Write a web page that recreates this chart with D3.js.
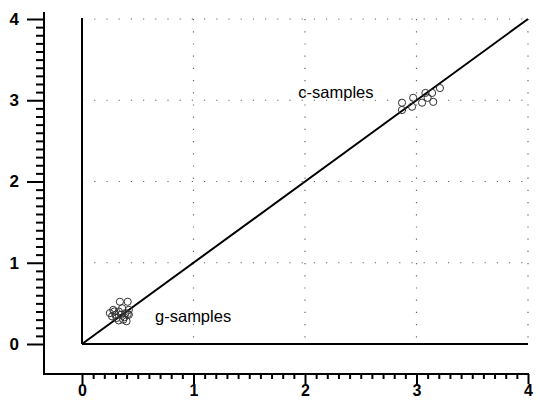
<!DOCTYPE html>
<html><head><meta charset="utf-8">
<script src="https://cdn.jsdelivr.net/npm/d3@7"></script>
<style>body{margin:0;background:#fff}svg{display:block}</style>
</head><body>
<svg id="c" width="540" height="400"></svg>
<script>
const tickValues = [0, 1, 2, 3, 4];
const tickLabels = ["0", "1", "2", "3", "4"];
const cSamplesX = [2.87, 2.87, 2.96, 2.97, 3.05, 3.08, 3.14, 3.15, 3.21, 3.10];
const cSamplesY = [2.97, 2.88, 2.92, 3.03, 2.97, 3.09, 3.09, 2.98, 3.15, 3.03];
const gSamplesX = [0.34, 0.41, 0.25, 0.28, 0.30, 0.33, 0.36, 0.39, 0.42, 0.27, 0.31, 0.35, 0.38, 0.41, 0.29, 0.33, 0.37, 0.40, 0.42];
const gSamplesY = [0.52, 0.52, 0.38, 0.42, 0.36, 0.40, 0.44, 0.38, 0.42, 0.34, 0.32, 0.36, 0.33, 0.37, 0.40, 0.29, 0.30, 0.28, 0.36];
const seriesLabels = ["c-samples", "g-samples"];
const labelPos = [[1.94, 3.03], [0.655, 0.27]];

const svg = d3.select("#c");
const x = d3.scaleLinear().domain([0, 4]).range([82, 528]);
const y = d3.scaleLinear().domain([0, 4]).range([344, 19]);
const font = "'Liberation Sans', Arial, Helvetica, sans-serif";

// grid dotted lines
const grid = svg.append("g").attr("stroke", "#666").attr("stroke-width", 1.2).attr("stroke-dasharray", "1.2,11");
tickValues.slice(1).forEach(v => {
  grid.append("line").attr("x1", x(v)).attr("x2", x(v)).attr("y1", y(4)).attr("y2", y(0));
  grid.append("line").attr("x1", x(0)).attr("x2", x(4)).attr("y1", y(v)).attr("y2", y(v));
});

// frame lines
const fr = svg.append("g").attr("stroke", "#000").attr("stroke-width", 2).attr("fill", "none");
fr.append("line").attr("x1", x(0)).attr("x2", x(0)).attr("y1", y(0)).attr("y2", y(4) - 1);
fr.append("line").attr("x1", x(0)).attr("x2", x(4)).attr("y1", y(0)).attr("y2", y(0));
fr.append("line").attr("x1", x(0)).attr("x2", x(4)).attr("y1", y(0)).attr("y2", y(4));

// y axis at x=44
const yAxisX = 44, xAxisY = 374;
const minor = d3.range(0, 40).map(i => i / 10).filter(v => v % 1 !== 0);
const ya = svg.append("g").attr("transform", `translate(${yAxisX},0)`);
ya.call(d3.axisLeft(y).tickValues(tickValues).tickFormat((d, i) => tickLabels[i]).tickSize(17).tickPadding(8));
ya.append("g").call(d3.axisLeft(y).tickValues(minor).tickFormat("").tickSize(8));
ya.selectAll(".domain").remove();
ya.selectAll("line").attr("stroke", "#000").attr("stroke-width", 2);
ya.selectAll("text").attr("font-family", font).attr("font-size", 17).attr("font-weight", "bold").attr("fill", "#000");
svg.append("line").attr("x1", yAxisX).attr("x2", yAxisX).attr("y1", 12).attr("y2", xAxisY + 1).attr("stroke", "#000").attr("stroke-width", 2);

// x axis at y=374
const xa = svg.append("g").attr("transform", `translate(0,${xAxisY})`);
xa.call(d3.axisBottom(x).tickValues(tickValues).tickFormat((d, i) => tickLabels[i]).tickSize(10).tickPadding(1));
xa.append("g").call(d3.axisBottom(x).tickValues(minor).tickFormat("").tickSize(5));
xa.selectAll(".domain").remove();
xa.selectAll("line").attr("stroke", "#000").attr("stroke-width", 2);
xa.selectAll("text").attr("font-family", font).attr("font-size", 16).attr("font-weight", "bold").attr("fill", "#000");
svg.append("line").attr("x1", yAxisX - 1).attr("x2", x(4) + 1).attr("y1", xAxisY).attr("y2", xAxisY).attr("stroke", "#000").attr("stroke-width", 2);

// points
const pts = svg.append("g").attr("fill", "none").attr("stroke", "#333").attr("stroke-width", 1);
cSamplesX.forEach((v, i) => pts.append("circle").attr("cx", x(v)).attr("cy", y(cSamplesY[i])).attr("r", 3.6));
gSamplesX.forEach((v, i) => pts.append("circle").attr("cx", x(v)).attr("cy", y(gSamplesY[i])).attr("r", 3.6));

// labels
seriesLabels.forEach((t, i) => {
  svg.append("text").attr("x", x(labelPos[i][0])).attr("y", y(labelPos[i][1]))
    .attr("font-family", font).attr("font-size", 16.5).attr("fill", "#000").text(t);
});
</script>
</body></html>
